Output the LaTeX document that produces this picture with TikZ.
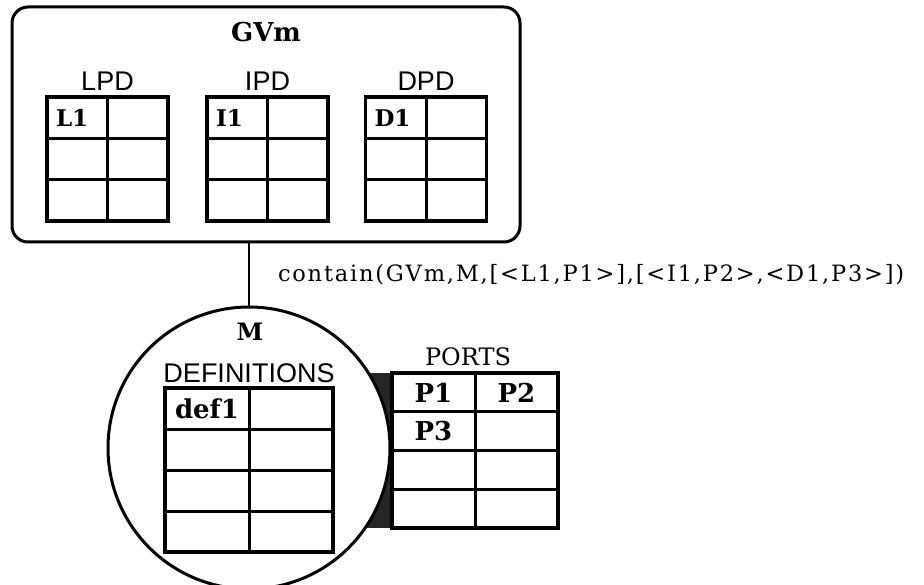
\documentclass[tikz,border=0pt]{standalone}
\usepackage{fontspec}
\setmainfont{DejaVu Serif}
\setsansfont{Liberation Sans}
\usetikzlibrary{positioning,calc,backgrounds}

\begin{document}
\begin{tikzpicture}[
    x=1pt, y=-1pt,
    every node/.style={inner sep=0pt, outer sep=0pt},
    title/.style={font=\fontsize{26}{30}\selectfont\bfseries},
    lbl/.style={font=\fontsize{27}{30}\selectfont\sffamily, anchor=base},
    slbl/.style={font=\fontsize{24}{28}\selectfont, anchor=base},
    cell/.style={font=\fontsize{23}{28}\selectfont\bfseries},
    bigcell/.style={font=\fontsize{26}{30}\selectfont\bfseries},
    tbl/.style={draw, line width=3.5pt},
    grid/.style={line width=3pt},
    frame/.style={draw, line width=3pt}
]
    \useasboundingbox (0,0) rectangle (924,585);

    % Outer box
    \node[
        frame,
        rounded corners=16pt,
        minimum width=508pt,
        minimum height=235pt
    ] (gvm) at (266,124.5) {};
    \node[title] (gvmtitle) at (266,32) {GVm};

    % Three tables of the box
    \foreach \tname/\tx/\ttext/\ctext in {lpd/107.5/LPD/L1, ipd/267.5/IPD/I1, dpd/426/DPD/D1} {
        \node[tbl, minimum width=121pt, minimum height=124pt] (\tname) at (\tx,159) {};
        \draw[grid] (\tname.north) -- (\tname.south);
        \foreach \f in {1,2}
            \draw[grid] ($(\tname.north west)!\f/3!(\tname.south west)$) -- ($(\tname.north east)!\f/3!(\tname.south east)$);
        \node[lbl] (\tname-lbl) at ($(\tname.north)+(0,-6)$) {\ttext};
        \node[cell, anchor=west] (\tname-c) at ($(\tname.north west)+(9,21)$) {\ctext};
    }

    % Module
    \node[frame, circle, fill=white, minimum size=282pt] (mmod) at (249,448) {};
    \draw[line width=2pt] (gvm.south -| mmod.north) -- (mmod.north);
    \node[title, font=\fontsize{24}{28}\selectfont\bfseries] (mtitle) at (250,332) {M};

    \node[
        anchor=west,
        font=\fontsize{22.5}{26}\selectfont\addfontfeatures{LetterSpace=8}
    ] (contain) at (278,275) {contain(GVm,M,[<L1,P1>],[<I1,P2>,<D1,P3>])};

    % Definitions
    \node[tbl, minimum width=168pt, minimum height=164pt] (defs) at (249,470) {};
    \draw[grid] (defs.north) -- (defs.south);
    \foreach \f in {1,2,3}
        \draw[grid] ($(defs.north west)!\f/4!(defs.south west)$) -- ($(defs.north east)!\f/4!(defs.south east)$);
    \node[lbl] (defs-lbl) at ($(defs.north)+(0,-6)$) {DEFINITIONS};
    \node[bigcell, anchor=west] (def1) at ($(defs.north west)+(10,20.5)$) {def1};

    % Ports
    \node[tbl, minimum width=166pt, minimum height=155pt] (ports) at (475,450.5) {};
    \draw[grid] (ports.north) -- (ports.south);
    \foreach \f in {1,2,3}
        \draw[grid] ($(ports.north west)!\f/4!(ports.south west)$) -- ($(ports.north east)!\f/4!(ports.south east)$);
    \node[slbl] (ports-lbl) at ($(ports.north)+(-7,-7)$) {PORTS};
    \node[bigcell] (p1) at ($($(ports.north west)!0.5!(ports.north)$)+(0,19.5)$) {P1};
    \node[bigcell] (p2) at ($($(ports.north)!0.5!(ports.north east)$)+(0,19.5)$) {P2};
    \node[bigcell] (p3) at ($(p1)+(0,38.75)$) {P3};

    % Dark gap between module and ports
    \begin{pgfonlayer}{background}
        \fill[black!85] ($(ports.north west)+(-40,0)$) rectangle (ports.south west);
    \end{pgfonlayer}

\end{tikzpicture}
\end{document}
